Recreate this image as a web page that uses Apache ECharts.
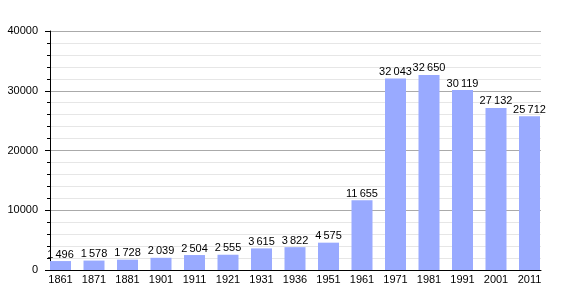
<!DOCTYPE html>
<html><head><meta charset="utf-8">
<script src="https://cdn.jsdelivr.net/npm/echarts@6/dist/echarts.min.js"></script>
<style>html,body{margin:0;padding:0;background:#fff}#c{width:570px;height:300px}</style>
</head><body><div id="c"></div>
<script>
var years = ['1861','1871','1881','1901','1911','1921','1931','1936','1951','1961','1971','1981','1991','2001','2011'];
var population = [1496,1578,1728,2039,2504,2555,3615,3822,4575,11655,32043,32650,30119,27132,25712];
var yTicks = [0,10000,20000,30000,40000];

function fmt(v){return String(v).replace(/\B(?=(\d{3})+(?!\d))/g,'\u2009');}
var font = 'Liberation Sans, Arial';
var chart = echarts.init(document.getElementById('c'));
chart.setOption({
  animation:false,
  grid:[
    {left:50,right:29,top:31,bottom:30},
    {left:50,right:17.5,top:31,bottom:30}
  ],
  xAxis:[
    {type:'value',gridIndex:0,min:0,max:1,
      axisLine:{show:true,onZero:false,lineStyle:{color:'#000',width:1}},
      axisTick:{show:false},axisLabel:{show:false},splitLine:{show:false}},
    {type:'category',gridIndex:1,data:years,
      axisLine:{show:false},axisTick:{show:false},
      axisLabel:{color:'#000',fontSize:11,fontFamily:font,margin:4,padding:[0,12.5,0,0]}}
  ],
  yAxis:[
    {type:'value',gridIndex:0,min:yTicks[0],max:yTicks[yTicks.length-1],interval:10000,
      axisLine:{show:true,lineStyle:{color:'#000',width:1}},
      axisTick:{show:true,length:5,lineStyle:{color:'#000'}},
      minorTick:{show:true,splitNumber:5,length:3,lineStyle:{color:'#000'}},
      splitLine:{lineStyle:{color:'#aaaaaa',width:1}},
      minorSplitLine:{show:true,lineStyle:{color:'#e6e6e6',width:1}},
      axisLabel:{color:'#000',fontSize:11,fontFamily:font,margin:12,formatter:function(v){return String(v);}}},
    {type:'value',gridIndex:1,min:yTicks[0],max:yTicks[yTicks.length-1],show:false}
  ],
  series:[
    {type:'bar',xAxisIndex:1,yAxisIndex:1,data:population,barWidth:21,barGap:0,
      itemStyle:{color:'#99aaff'},
      label:{show:true,position:'top',distance:1,color:'#000',fontSize:11,fontFamily:font,
        formatter:function(p){return fmt(p.value);}}},
    {type:'bar',xAxisIndex:1,yAxisIndex:1,data:[],barWidth:12.5,barGap:0}
  ]
});
</script></body></html>
